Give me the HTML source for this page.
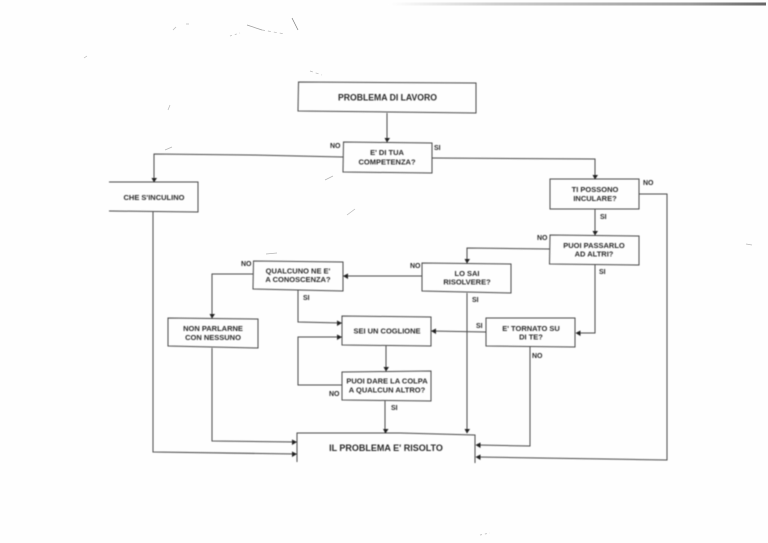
<!DOCTYPE html>
<html><head><meta charset="utf-8"><style>
html,body{margin:0;padding:0;background:#fefefe;width:768px;height:543px;overflow:hidden}
svg{display:block}
text{font-family:"Liberation Sans",sans-serif;font-weight:700;fill:#2a2a2a;text-anchor:middle}
.l{font-size:7px;text-anchor:start}
.t{font-size:7.500px}
.b{font-size:9px}
</style></head><body>
<svg width="768" height="543" viewBox="0 0 768 543" xmlns="http://www.w3.org/2000/svg">
<defs>
<linearGradient id="g" x1="0" x2="1" y1="0" y2="0"><stop offset="0" stop-color="#fff"/><stop offset=".3" stop-color="#ccc"/><stop offset=".8" stop-color="#999"/><stop offset="1" stop-color="#666"/></linearGradient>
<filter id="s"><feGaussianBlur stdDeviation="0.4"/></filter>
</defs>
<rect width="768" height="543" fill="#fefefe"/>
<rect x="388" y="2.500" width="378" height="3" fill="url(#g)"/>
<g filter="url(#s)">
<g fill="none" stroke="#4a4a4a" stroke-width="1">
<!-- boxes -->
<path d="M298.500 82 L476 83 L476 113 L390 112 L298 111 Z"/>
<path d="M343.500 142 L432 143 L432 173 L343 172 Z"/>
<path d="M109 182 L198 182 L198 212 L109 211"/>
<path d="M550 179 L639 179 L639 209 L550 209 Z"/>
<path d="M550 235 L639 236 L639 265 L549.500 264 Z"/>
<path d="M422 263 L511 264 L511 293 L422 291 Z"/>
<path d="M253.500 261 L343 262 L343 291 L253 289 Z"/>
<path d="M168 318 L258 319 L258 348 L168 346 Z"/>
<path d="M342 316 L431 317 L431 346 L342 345 Z"/>
<path d="M342 372 L431 371 L431 401 L342 400 Z"/>
<path d="M486 318 L575 318 L575 347 L486 346 Z"/>
<path d="M297 462 L297 433 L400 433 L475 435 L475 463"/>
<!-- connectors -->
<path d="M387 113 V142"/>
<path d="M343 157 L250 155 L154 154 V182"/>
<path d="M432 158 L595 159 V179"/>
<path d="M595 209 V235"/>
<path d="M550 249 L467 248 V263"/>
<path d="M639 194 H667 V460 L476 457"/>
<path d="M595 265 V333 H576"/>
<path d="M422 276 L343 276"/>
<path d="M467 293 V433"/>
<path d="M253 274 H212 V318"/>
<path d="M298 290 V322 L342 323"/>
<path d="M212 348 V441 L297 442"/>
<path d="M153 212 V452 L297 454"/>
<path d="M486 332 L431 331"/>
<path d="M530 347 V446 L476 445"/>
<path d="M386 346 V371"/>
<path d="M342 385 H298 V337 H342"/>
<path d="M385 401 V433"/>
</g>
<g fill="#222">
<!-- down arrows -->
<path d="M384.500 138 H390 L387 142.500 Z"/>
<path d="M151.500 178 H157 L154 182.500 Z"/>
<path d="M592.500 175 H598 L595 179.500 Z"/>
<path d="M592.500 231 H598 L595 235.500 Z"/>
<path d="M464.500 259 H470 L467 263.500 Z"/>
<path d="M209.500 314 H215 L212 318.500 Z"/>
<path d="M383.500 367 H389 L386 371.500 Z"/>
<path d="M383 429 H388.500 L385.500 433.500 Z"/>
<path d="M464.500 429 H470 L467 433.500 Z"/>
<!-- left arrows -->
<path d="M343 276 L348 273.500 V279 Z"/>
<path d="M431 331 L436 328.500 V334 Z"/>
<path d="M575.500 333 L580.500 330.500 V336 Z"/>
<path d="M475.500 445 L480.500 442.500 V448 Z"/>
<path d="M475.500 457 L480.500 454.500 V460 Z"/>
<!-- right arrows -->
<path d="M342 323 L337 320.500 V326 Z"/>
<path d="M342 337 L337 334.500 V340 Z"/>
<path d="M297 442 L292 439.500 V445 Z"/>
<path d="M297 454 L292 451.500 V457 Z"/>
</g>
<!-- node labels -->
<text class="b" x="387.500" y="100.500" textLength="99" lengthAdjust="spacingAndGlyphs">PROBLEMA DI LAVORO</text>
<text class="t" x="387" y="155">E' DI TUA</text>
<text class="t" x="387" y="164.500">COMPETENZA?</text>
<text class="t" x="154" y="200">CHE S'INCULINO</text>
<text class="t" x="595" y="192">TI POSSONO</text>
<text class="t" x="595" y="201">INCULARE?</text>
<text class="t" x="594" y="248">PUOI PASSARLO</text>
<text class="t" x="594" y="256.500">AD ALTRI?</text>
<text class="t" x="467" y="276">LO SAI</text>
<text class="t" x="467" y="284.500">RISOLVERE?</text>
<text class="t" x="298" y="273.500">QUALCUNO NE E'</text>
<text class="t" x="298" y="282">A CONOSCENZA?</text>
<text class="t" x="213" y="331">NON PARLARNE</text>
<text class="t" x="213" y="340">CON NESSUNO</text>
<text class="t" x="387" y="333.500">SEI UN COGLIONE</text>
<text class="t" x="387" y="383.500">PUOI DARE LA COLPA</text>
<text class="t" x="387" y="392.500">A QUALCUN ALTRO?</text>
<text class="t" x="531" y="331">E' TORNATO SU</text>
<text class="t" x="531" y="339.500">DI TE?</text>
<text class="b" x="386" y="451">IL PROBLEMA E' RISOLTO</text>
<!-- connector labels -->
<text class="l" x="330" y="148">NO</text>
<text class="l" x="434" y="150">SI</text>
<text class="l" x="643" y="185">NO</text>
<text class="l" x="600" y="219">SI</text>
<text class="l" x="537" y="240">NO</text>
<text class="l" x="599" y="274">SI</text>
<text class="l" x="410" y="268">NO</text>
<text class="l" x="472" y="302">SI</text>
<text class="l" x="241" y="266">NO</text>
<text class="l" x="303" y="300">SI</text>
<text class="l" x="476" y="328">SI</text>
<text class="l" x="532" y="358">NO</text>
<text class="l" x="329" y="396">NO</text>
<text class="l" x="391" y="410">SI</text>
</g>
<!-- specks -->
<g fill="none" stroke="#b5b5b5" stroke-width=".7">
<path d="M247 25 L262 30" stroke="#999"/>
<path d="M262 30 L285 34" stroke-dasharray="3 3"/>
<path d="M292 18 L298 30" stroke="#777"/>
<path d="M173 30 L176 27"/>
<path d="M186 24 H189"/>
<path d="M84 58 L87 56"/>
<path d="M310 71 L322 75" stroke-dasharray="3 3"/>
<path d="M165 150 L172 147"/>
<path d="M325 180 L333 176"/>
<path d="M347 215 L355 209"/>
<path d="M266 254 L277 253"/>
<path d="M168 110 L170 105"/>
<path d="M746 244 L752 245"/>
<path d="M480 535 L490 533" stroke-dasharray="2 3"/>
<path d="M230 36 L240 33" stroke-dasharray="2 3"/>
</g>
</svg>
</body></html>
